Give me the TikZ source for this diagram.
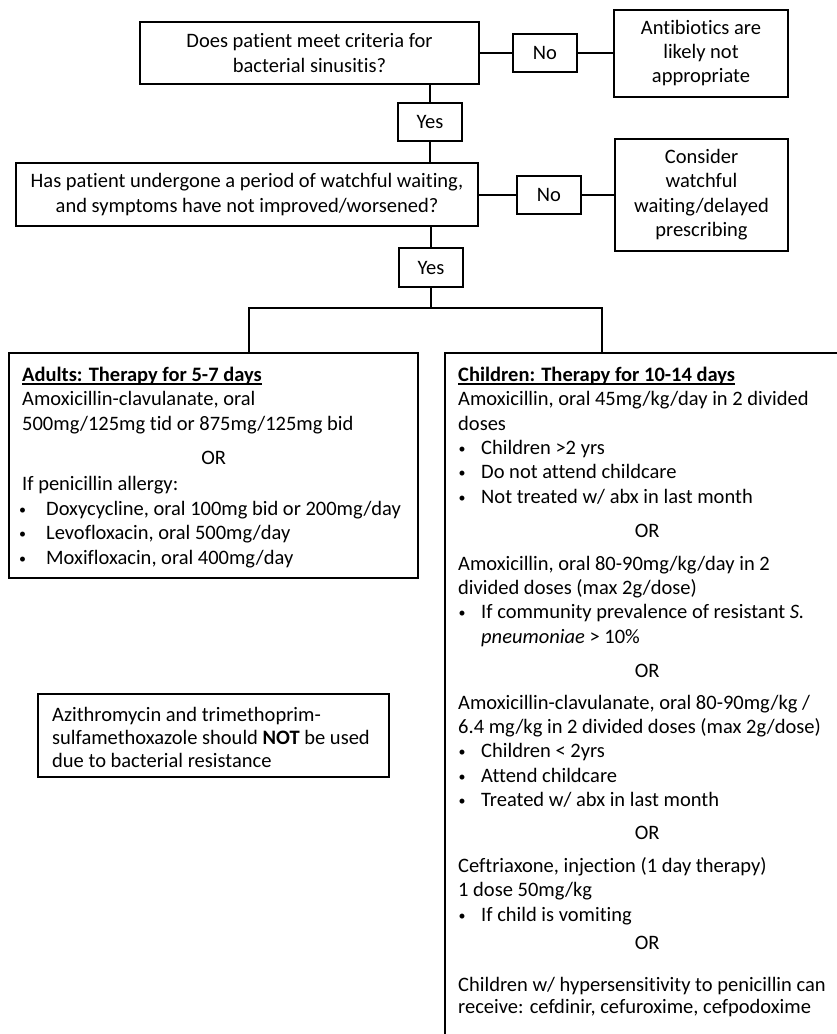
\documentclass[tikz,border=0pt]{standalone}
\usepackage{fontspec}
\setmainfont{Carlito}[Ligatures=NoCommon]
\newcommand\fz{\fontsize{20.5}{24.4}\selectfont}
\newcommand\smallbul{{\fontsize{14}{14}\selectfont\raisebox{1pt}{\textbullet}}}
\newcommand\bla{\hspace*{-3pt}\makebox[27pt][l]{\smallbul}}
\newcommand\blc{\hspace*{0.5pt}\makebox[22.5pt][l]{\smallbul}}
\newcommand\uln[1]{\setbox0\hbox{#1}\rlap{\rule[-3.5pt]{\wd0}{1.3pt}}\box0}
\tikzset{
  box/.style={draw, line width=2pt, inner sep=0pt, align=center, font=\fz},
  conn/.style={line width=2pt},
  txt/.style={inner sep=0pt, anchor=north west, align=left, font=\fz}
}
\begin{document}
\begin{tikzpicture}[x=1pt,y=-1pt]
\useasboundingbox (0,0) rectangle (837,1034);
\clip (0,0) rectangle (837,1034);
% decision boxes
\node[box, minimum width=339pt, minimum height=62pt] (q1) at (309.5,53) {Does patient meet criteria for\\bacterial sinusitis?};
\node[box, minimum width=64pt, minimum height=38pt] (no1) at (545,53) {No};
\node[box, minimum width=174pt, minimum height=87pt] (ab) at (701,53) {Antibiotics are\\likely not\\appropriate};
\node[box, minimum width=64pt, minimum height=38pt] (yes1) at (430,122) {Yes};
\node[box, minimum width=462pt, minimum height=63pt] (q2) at (247,194.5) {Has patient undergone a period of watchful waiting,\\and symptoms have not improved/worsened?};
\node[box, minimum width=64pt, minimum height=38pt] (no2) at (549,194.5) {No};
\node[box, minimum width=173pt, minimum height=112pt] (cons) at (701.5,194.5) {Consider\\watchful\\waiting/delayed\\prescribing};
\node[box, minimum width=64pt, minimum height=39pt] (yes2) at (431,267.5) {Yes};
% therapy boxes
\node[box, minimum width=409pt, minimum height=225pt] (adults) at (213.5,465.5) {};
\node[box, minimum width=405pt, minimum height=707pt] (child) at (647.5,706.5) {};
\node[box, minimum width=351pt, minimum height=83pt] (azi) at (213.5,735.5) {};
% texts of boxes
\node[txt] (azitext) at (52,704) {\strut Azithromycin and trimethoprim-\\[-1.5pt]
sulfamethoxazole should \textbf{NOT} be used\\[-1.5pt]
due to bacterial resistance};
\node[txt] (adtext) at (22,364) {\strut\uln{\textbf{Adults: Therapy for 5-7 days}}\\
Amoxicillin-clavulanate, oral\\
500mg/125mg tid or 875mg/125mg bid\\[10pt]
\makebox[383pt]{OR}\\[2pt]
If penicillin allergy:\\
\bla Doxycycline, oral 100mg bid or 200mg/day\\
\bla Levofloxacin, oral 500mg/day\\
\bla Moxifloxacin, oral 400mg/day};
\node[txt] (chtext) at (458,364) {\strut\uln{\textbf{Children: Therapy for 10-14 days}}\\
Amoxicillin, oral 45mg/kg/day in 2 divided\\
doses\\
\blc Children >2 yrs\\
\blc Do not attend childcare\\
\blc Not treated w/ abx in last month\\[10pt]
\makebox[378pt]{OR}\\[8pt]
Amoxicillin, oral 80-90mg/kg/day in 2\\
divided doses (max 2g/dose)\\
\blc If community prevalence of resistant \textit{S.}\\
\hspace*{23pt}\textit{pneumoniae} > 10\%\\[10pt]
\makebox[378pt]{OR}\\[7pt]
Amoxicillin-clavulanate, oral 80-90mg/kg /\\
6.4 mg/kg in 2 divided doses (max 2g/dose)\\
\blc Children < 2yrs\\
\blc Attend childcare\\
\blc Treated w/ abx in last month\\[8pt]
\makebox[378pt]{OR}\\[9pt]
Ceftriaxone, injection (1 day therapy)\\
1 dose 50mg/kg\\
\blc If child is vomiting\\[4pt]
\makebox[378pt]{OR}\\[17pt]
Children w/ hypersensitivity to penicillin can\\[-2pt]
receive: cefdinir, cefuroxime, cefpodoxime};
% connectors
\coordinate (sl) at (249,308);
\coordinate (sr) at (602,308);
\coordinate (split) at (431,308);
\draw[conn] (q1.east) -- (no1.west);
\draw[conn] (no1.east) -- (ab.west);
\draw[conn] (q1.south -| yes1) -- (yes1.north);
\draw[conn] (yes1.south) -- (q2.north -| yes1);
\draw[conn] (q2.east) -- (no2.west);
\draw[conn] (no2.east) -- (cons.west);
\draw[conn] (q2.south -| yes2) -- (yes2.north);
\draw[conn] (yes2.south) -- (split);
\draw[conn] (adults.north -| sl) -- (sl) -- (sr) -- (child.north -| sr);
\end{tikzpicture}
\end{document}
